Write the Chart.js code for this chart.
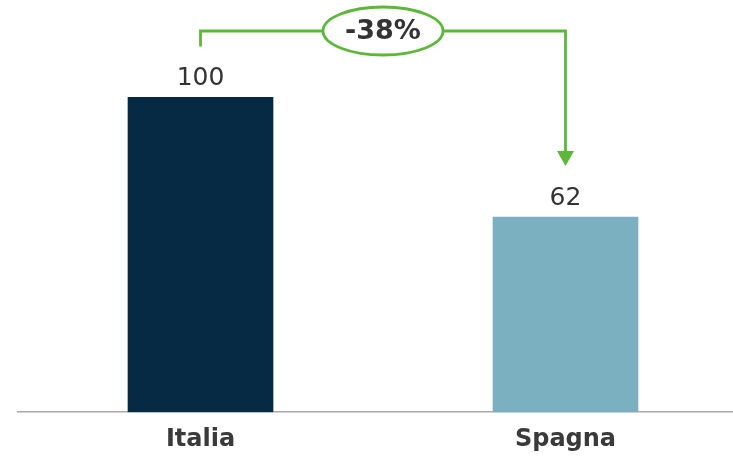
<!DOCTYPE html>
<html>
<head>
<meta charset="utf-8">
<script src="https://cdn.jsdelivr.net/npm/chart.js@4/dist/chart.umd.min.js"></script>
<style>
  html, body { margin: 0; padding: 0; background: #fff; overflow: hidden; }
  #wrap { width: 733px; height: 456px; overflow: hidden; }
</style>
</head>
<body>
<div id="wrap"><canvas id="chart1" width="748" height="467"></canvas></div>
<script>
const categories = ['Italia', 'Spagna'];
const values = [100, 62];
const barColors = ['#062a44', '#7ab0c0'];
const green = '#5db83a';

// value labels above bars + the green -38% bracket
const annotate = {
    id: 'annotate',
    afterDatasetsDraw(chart) {
        const ctx = chart.ctx;
        const meta = chart.getDatasetMeta(0);
        ctx.save();
        ctx.font = '25px "DejaVu Sans"';
        ctx.fillStyle = '#333';
        ctx.textAlign = 'center';
        ctx.textBaseline = 'alphabetic';
        meta.data.forEach((bar, i) => {
            ctx.fillText(String(values[i]), bar.x, bar.y - 12);
        });

        const a = meta.data[0], b = meta.data[1];
        const topY = 31;
        const startY = a.y - 51;
        const tipY = b.y - 51;
        ctx.strokeStyle = green;
        ctx.lineWidth = 2.8;
        ctx.beginPath();
        ctx.moveTo(a.x, startY);
        ctx.lineTo(a.x, topY);
        ctx.lineTo(b.x, topY);
        ctx.lineTo(b.x, tipY - 13);
        ctx.stroke();
        ctx.fillStyle = green;
        ctx.beginPath();
        ctx.moveTo(b.x - 8.5, tipY - 15);
        ctx.lineTo(b.x + 8.5, tipY - 15);
        ctx.lineTo(b.x, tipY);
        ctx.closePath();
        ctx.fill();

        const cx = 383;
        ctx.fillStyle = '#fff';
        ctx.beginPath();
        ctx.ellipse(cx, topY, 60, 24, 0, 0, Math.PI * 2);
        ctx.fill();
        ctx.stroke();

        const pct = Math.round((values[1] - values[0]) / values[0] * 100);
        ctx.fillStyle = '#333';
        ctx.font = 'bold 27px "DejaVu Sans"';
        ctx.textBaseline = 'middle';
        ctx.fillText(pct + '%', cx, topY + 1);
        ctx.restore();
    }
};

new Chart(document.getElementById('chart1').getContext('2d'), {
    type: 'bar',
    data: {
        labels: categories,
        datasets: [{
            data: values,
            backgroundColor: barColors,
            barThickness: 145
        }]
    },
    options: {
        responsive: false,
        animation: false,
        layout: { padding: { top: 3, bottom: 0, left: 18, right: 0 } },
        plugins: {
            legend: { display: false },
            tooltip: { enabled: false }
        },
        scales: {
            x: {
                grid: { display: false, drawTicks: false },
                border: { display: true, color: '#aaaaaa', width: 1.5 },
                ticks: {
                    color: '#3a3a3a',
                    padding: 13,
                    font: { family: 'DejaVu Sans', size: 24, weight: 'bold' }
                }
            },
            y: {
                display: false,
                min: 0,
                max: 130
            }
        }
    },
    plugins: [annotate]
});
</script>
</body>
</html>
